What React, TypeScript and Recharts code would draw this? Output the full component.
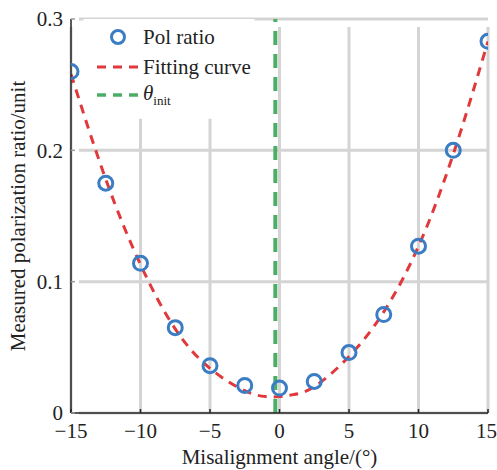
import React from "react";
import {
  ComposedChart,
  Line,
  Scatter,
  XAxis,
  YAxis,
  CartesianGrid,
  ReferenceLine,
  ReferenceArea,
} from "recharts";

const angles = [-15, -12.5, -10, -7.5, -5, -2.5, 0, 2.5, 5, 7.5, 10, 12.5, 15];
const polRatio = [0.26, 0.175, 0.114, 0.065, 0.036, 0.021, 0.019, 0.024, 0.046, 0.075, 0.127, 0.2, 0.283];

const fitAngles = [-15, -12.5, -10, -7.5, -5, -2.5, -1, 0, 1, 2.5, 5, 7.5, 10, 12.5, 15];
const fitValues = [0.258, 0.178, 0.113, 0.064, 0.034, 0.017, 0.0125, 0.0125, 0.014, 0.02, 0.043, 0.077, 0.127, 0.197, 0.283];

const thetaInit = -0.3;
const xTicks = [-15, -10, -5, 0, 5, 10, 15];
const yTicks = [0, 0.1, 0.2, 0.3];

const BLUE = "#3a7dc4";
const RED = "#e0393c";
const GREEN = "#4cae66";
const GRID = "#d4d4d4";
const FONT = "'Liberation Serif', 'DejaVu Serif', 'Noto Serif', 'Times New Roman', serif";
const FS = 21;

const polData = angles.map((a, i) => ({ x: a, y: polRatio[i] }));
const fitData = fitAngles.map((a, i) => ({ x: a, y: fitValues[i] }));

const fmtX = (v: number) => (v < 0 ? "\u2212" + Math.abs(v) : String(v));
const fmtY = (v: number) => (v === 0 ? "0" : v.toFixed(1));

const Ring = (props: any) => {
  const { cx, cy } = props;
  if (cx == null || cy == null) return null;
  return <circle cx={cx} cy={cy} r={7} fill="none" stroke={BLUE} strokeWidth={3} />;
};

const GRID_INSET = 8;

const vGrid = (p: any) => (
  <line
    key={p.key}
    x1={p.x1}
    x2={p.x2}
    y1={Math.min(p.y1, p.y2) + GRID_INSET}
    y2={Math.max(p.y1, p.y2)}
    stroke={GRID}
    strokeWidth={3}
  />
);

const hGrid = (p: any) => (
  <line
    key={p.key}
    x1={Math.min(p.x1, p.x2) + GRID_INSET}
    x2={Math.max(p.x1, p.x2)}
    y1={p.y1}
    y2={p.y2}
    stroke={GRID}
    strokeWidth={3}
  />
);

const rowStyle = (top: number): React.CSSProperties => ({
  position: "absolute",
  left: 0,
  top,
  width: 200,
  height: 28,
  display: "flex",
  alignItems: "center",
  justifyContent: "flex-start",
  whiteSpace: "nowrap",
});

export default function App() {
  return (
    <div style={{ position: "absolute", left: 0, top: 0, width: 497, height: 470, background: "#fff", fontFamily: FONT }}>
      <ComposedChart
        width={497}
        height={470}
        margin={{ top: 19, right: 9, bottom: 0, left: 0 }}
        style={{ fontFamily: FONT }}
      >
        <CartesianGrid vertical={vGrid} horizontal={hGrid} />
        <ReferenceArea
          x1={-14.1}
          x2={-1.8}
          y1={0.224}
          y2={0.3}
          fill="#fff"
          fillOpacity={1}
          stroke="none"
        />
        <XAxis
          type="number"
          dataKey="x"
          domain={[-15, 15]}
          ticks={xTicks}
          tickFormatter={fmtX}
          allowDataOverflow
          height={57}
          stroke="#222"
          strokeWidth={1.5}
          tickLine={{ stroke: "#222" }}
          tickSize={-4}
          tickMargin={14}
          tick={{ fill: "#222", fontSize: FS, fontFamily: FONT }}
          label={{
            value: "Misalignment angle/(°)",
            position: "insideBottom",
            offset: 6,
            fill: "#222",
            fontSize: FS,
            fontFamily: FONT,
          }}
        />
        <XAxis
          xAxisId="top"
          orientation="top"
          type="number"
          dataKey="x"
          domain={[-15, 15]}
          height={0}
          tick={false}
          tickLine={false}
          stroke="#222"
          strokeWidth={1.5}
        />
        <YAxis
          type="number"
          domain={[0, 0.3]}
          ticks={yTicks}
          tickFormatter={fmtY}
          allowDataOverflow
          width={71}
          stroke="#222"
          strokeWidth={1.5}
          tickLine={{ stroke: "#999" }}
          tickSize={-4}
          tickMargin={12}
          tick={{ fill: "#222", fontSize: FS, fontFamily: FONT }}
          label={{
            value: "Measured polarization ratio/unit",
            angle: -90,
            position: "insideLeft",
            offset: 18,
            style: { textAnchor: "middle" },
            fill: "#222",
            fontSize: FS,
            fontFamily: FONT,
          }}
        />
        <YAxis
          yAxisId="right"
          orientation="right"
          type="number"
          domain={[0, 0.3]}
          width={0}
          tick={false}
          tickLine={false}
          stroke="#222"
          strokeWidth={1.5}
        />
        <Line
          data={fitData}
          dataKey="y"
          type="natural"
          stroke={RED}
          strokeWidth={3}
          strokeDasharray="9 7"
          dot={false}
          activeDot={false}
          isAnimationActive={false}
        />
        <ReferenceLine
          x={thetaInit}
          stroke={GREEN}
          strokeWidth={4}
          strokeDasharray="14 9"
        />
        <Scatter data={polData} dataKey="y" shape={<Ring />} isAnimationActive={false} />
      </ComposedChart>
      <div
        style={{
          position: "absolute",
          left: 94,
          top: 0,
          width: 200,
          height: 120,
          fontFamily: FONT,
          fontSize: FS,
          color: "#222",
        }}
      >
        <div style={rowStyle(23)}>
          <svg width={48} height={20} style={{ marginRight: 1, flexShrink: 0 }}>
            <circle cx={24} cy={10} r={6.5} fill="none" stroke={BLUE} strokeWidth={3} />
          </svg>
          <span>Pol ratio</span>
        </div>
        <div style={rowStyle(53)}>
          <svg width={48} height={20} style={{ marginRight: 1, flexShrink: 0 }}>
            <line x1={3} y1={10} x2={45} y2={10} stroke={RED} strokeWidth={3} strokeDasharray="9 7" />
          </svg>
          <span>Fitting curve</span>
        </div>
        <div style={rowStyle(81)}>
          <svg width={48} height={20} style={{ marginRight: 1, flexShrink: 0 }}>
            <line x1={3} y1={10} x2={45} y2={10} stroke={GREEN} strokeWidth={3.5} strokeDasharray="9 7" />
          </svg>
          <span>
            <i>θ</i>
            <sub style={{ fontSize: 13 }}>init</sub>
          </span>
        </div>
      </div>
    </div>
  );
}
